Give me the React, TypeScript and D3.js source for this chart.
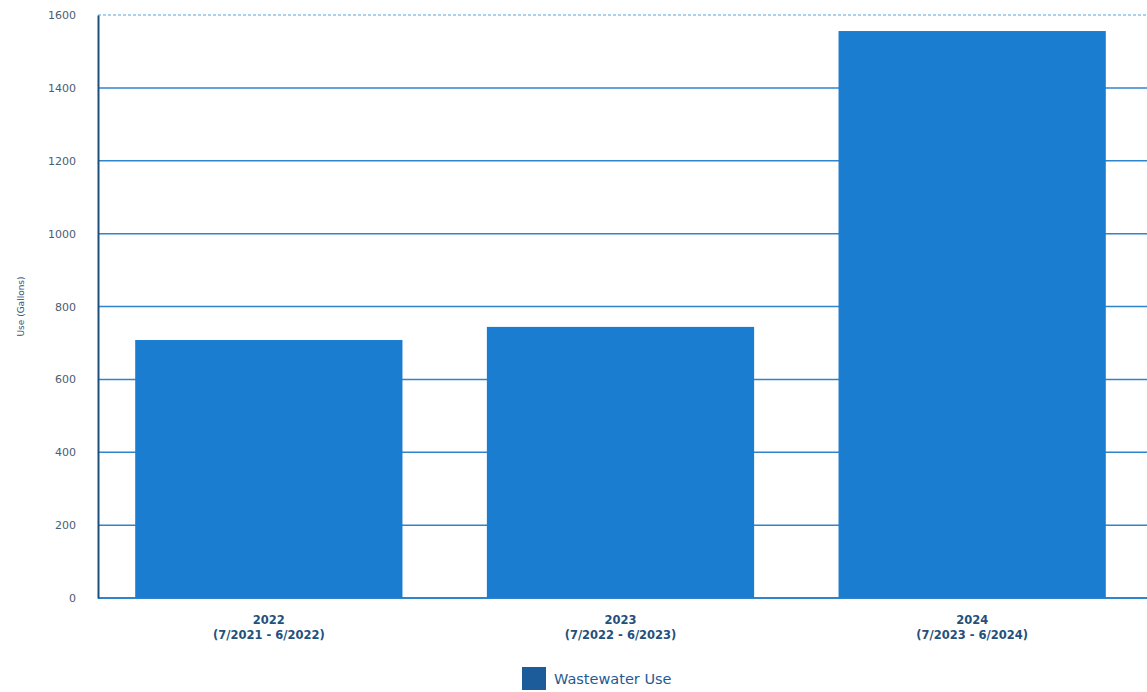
import { axisLeft, scaleBand, scaleLinear, select } from "d3";
import { useEffect, useRef } from "react";

const years = ["2022", "2023", "2024"];
const periods = ["(7/2021 - 6/2022)", "(7/2022 - 6/2023)", "(7/2023 - 6/2024)"];
const usage = [708, 744, 1556];
const yTicks = [0, 200, 400, 600, 800, 1000, 1200, 1400, 1600];
const seriesName = "Wastewater Use";

const width = 1147;
const height = 692;
const left = 98;
const right = 1148;
const top = 15;
const bottom = 598;

const App = () => {
  const ref = useRef<SVGSVGElement>(null);

  useEffect(() => {
    if (!ref.current) return;
    const svg = select(ref.current);
    svg.selectAll("*").remove();

    const x = scaleBand<string>()
      .domain(years)
      .range([left - 5, right])
      .paddingInner(0.24)
      .paddingOuter(0.12);
    const y = scaleLinear().domain([0, 1600]).range([bottom, top]);

    // grid
    svg
      .append("g")
      .selectAll("line")
      .data(yTicks)
      .join("line")
      .attr("x1", left)
      .attr("x2", width)
      .attr("y1", (d) => y(d))
      .attr("y2", (d) => y(d))
      .attr("stroke", (d) => (d === 1600 ? "#8fc2ea" : "#2f84cc"))
      .attr("stroke-width", (d) => (d === 0 ? 2 : 1.5))
      .attr("stroke-dasharray", (d) => (d === 1600 ? "3,2" : null));

    svg
      .append("g")
      .selectAll("rect")
      .data(usage)
      .join("rect")
      .attr("x", (_, i) => x(years[i]) as number)
      .attr("y", (d) => y(d))
      .attr("width", x.bandwidth())
      .attr("height", (d) => bottom - y(d))
      .attr("fill", "#1b7dd0");

    const yAxis = axisLeft(y)
      .tickValues(yTicks)
      .tickFormat((d) => String(d))
      .tickSize(0)
      .tickPadding(22);
    const ax = svg.append("g").attr("transform", `translate(${left},0)`).call(yAxis);
    ax.select(".domain").attr("stroke", "#1f4f7c").attr("stroke-width", 2);
    ax.selectAll("text")
      .attr("fill", "#4d5d70")
      .attr("font-size", 11)
      .attr("font-family", "DejaVu Sans, Verdana, sans-serif");

    // x labels
    const cx = (d: string) => (x(d) as number) + x.bandwidth() / 2;
    const xl = svg
      .append("g")
      .selectAll("text")
      .data(years)
      .join("text")
      .attr("x", cx)
      .attr("text-anchor", "middle")
      .attr("fill", "#24507c")
      .attr("font-size", 11.5)
      .attr("font-weight", "bold")
      .attr("font-family", "DejaVu Sans, Verdana, sans-serif");
    xl.append("tspan").attr("y", 624).attr("x", cx).text((d) => d);
    xl.append("tspan")
      .attr("y", 639)
      .attr("x", cx)
      .text((_, i) => periods[i]);

    svg
      .append("text")
      .attr("transform", `translate(24,${(top + bottom) / 2}) rotate(-90)`)
      .attr("text-anchor", "middle")
      .attr("fill", "#33557a")
      .attr("font-size", 9)
      .attr("font-family", "DejaVu Sans, Verdana, sans-serif")
      .text("Use (Gallons)");

    const lg = svg.append("g").attr("transform", "translate(522,667)");
    lg.append("rect").attr("width", 24).attr("height", 23).attr("fill", "#1d5c9a");
    lg.append("text")
      .attr("x", 32)
      .attr("y", 17)
      .attr("fill", "#1f5a94")
      .attr("font-size", 14.5)
      .attr("font-family", "DejaVu Sans, Verdana, sans-serif")
      .text(seriesName);
  }, []);

  return (
    <svg
      ref={ref}
      width={width}
      height={height}
      style={{ position: "absolute", left: 0, top: 0, background: "#fff" }}
    />
  );
};

export default App;
